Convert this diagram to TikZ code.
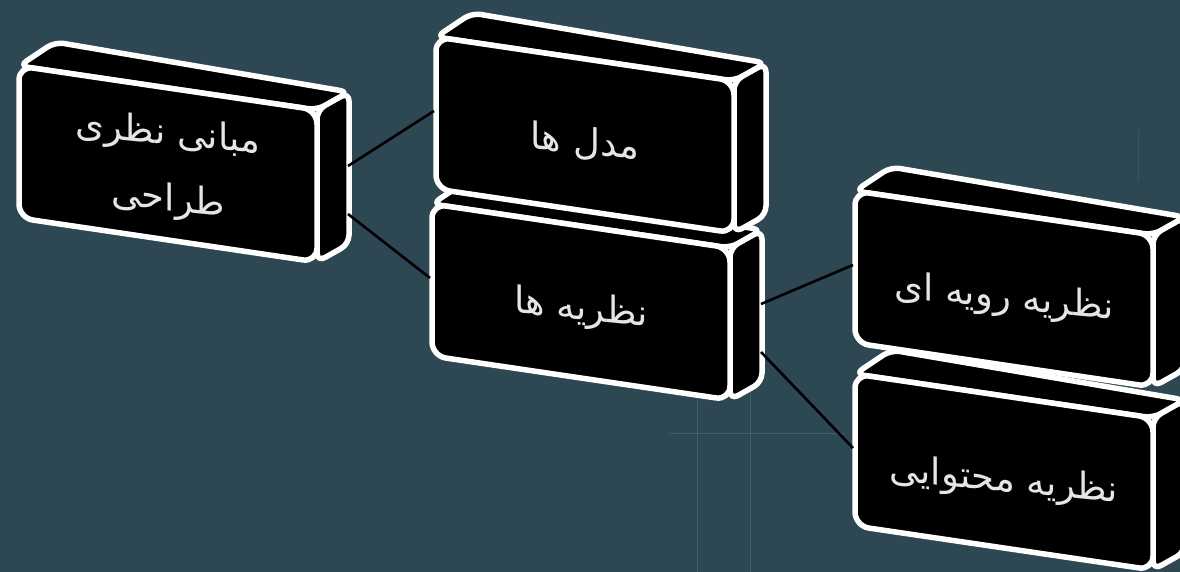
\documentclass[tikz,border=0pt]{standalone}
\usepackage{fontspec}
\newfontfamily\arabicfont[Script=Arabic]{DejaVu Sans}
\TeXXeTstate=1
\definecolor{bgcol}{RGB}{45,71,83}
\definecolor{gridcol}{RGB}{80,108,120}
\tikzset{
  boxline/.style={draw=white, fill=black, line width=5.5pt, line join=round, rounded corners=9pt},
  frontline/.style={boxline, rounded corners=14pt},
  boxtext/.style={text=white!90!black, font=\arabicfont\fontsize{37}{66}\selectfont, align=center, yslant=-0.1, inner sep=0pt},
  link/.style={draw=black, line width=2.6pt}
}
\newcommand{\cubebox}[5]{%
  \begin{scope}[shift={(#2,#3)}]
    \draw[boxline] (0,0) -- (36,-24) -- (330,26) -- (298,44) -- cycle;
    \draw[boxline] (298,44) -- (330,26) -- (330,178) -- (298,196) -- cycle;
    \draw[frontline] (0,0) -- (298,44) -- (298,196) -- (0,152) -- cycle;
    \coordinate (#1-l) at (-2,74);
    \coordinate (#1-ra) at (329,100);
    \coordinate (#1-rb) at (329,148);
    \node[boxtext] (#1) at (149,#4) {#5};
  \end{scope}}
\begin{document}
\begin{tikzpicture}[x=1pt,y=-1pt]
  \useasboundingbox (0,0) rectangle (1180,572);
  \clip (0,0) rectangle (1180,572);
  \fill[bgcol] (0,0) rectangle (1180,572);
  % faint background grid
  \draw[gridcol, line width=0.8pt, opacity=0.6] (697,400) -- (697,572);
  \draw[gridcol, line width=0.8pt, opacity=0.6] (750,380) -- (750,572);
  \draw[gridcol, line width=0.8pt, opacity=0.6] (670,433) -- (845,433);
  \draw[gridcol, line width=0.8pt, opacity=0.4] (1138,130) -- (1138,180);
  % boxes
  \cubebox{b1}{19}{66}{102}{\beginR مبانی نظری\endR\\\beginR طراحی\endR}
  \cubebox{b3}{432}{204}{106}{\beginR نظریه ها\endR}
  \cubebox{b2}{436}{37}{106}{\beginR مدل ها\endR}
  \cubebox{b5}{855}{374}{108}{\beginR نظریه محتوایی\endR}
  \cubebox{b4}{855}{191}{108}{\beginR نظریه رویه ای\endR}
  % connectors
  \draw[link] (b1-ra) -- (b2-l);
  \draw[link] (b1-rb) -- (b3-l);
  \draw[link] (b3-ra) -- (b4-l);
  \draw[link] (b3-rb) -- (b5-l);
\end{tikzpicture}
\end{document}
